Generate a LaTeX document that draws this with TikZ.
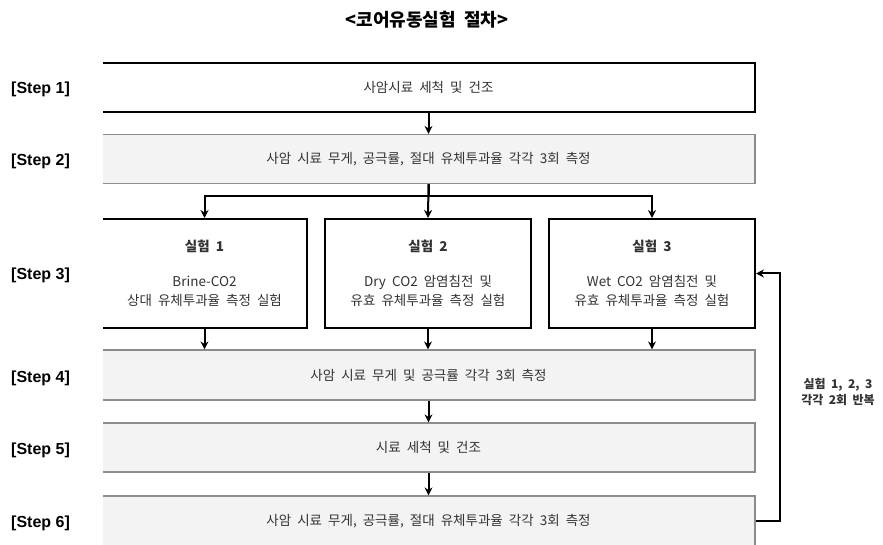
\documentclass[tikz,border=0pt]{standalone}
\usepackage{fontspec}
\setmainfont{Noto Sans CJK KR}[WordSpace=2]
\newfontfamily\stepfont{Liberation Sans}
\usetikzlibrary{arrows.meta}
\definecolor{boxgray}{HTML}{F3F3F3}
\definecolor{linegray}{HTML}{8C8C8C}
\definecolor{textgray}{HTML}{333333}

\begin{document}
\begin{tikzpicture}[x=1pt,y=1pt]
\tikzstyle{every node}+=[inner sep=0pt]
\tikzstyle{whitebox}=[draw=black, line width=1.5pt, fill=white, minimum width=653pt, minimum height=49pt, text=textgray, font=\fontsize{13.5}{16}\selectfont]
\tikzstyle{graybox}=[whitebox, draw=linegray, line width=1.2pt, fill=boxgray]
\tikzstyle{testbox}=[draw=black, line width=2pt, fill=white, minimum width=205pt, minimum height=109pt, align=center, text=textgray, font=\fontsize{13.5}{19}\selectfont]
\tikzstyle{steplabel}=[anchor=west, font=\stepfont\bfseries\fontsize{16}{19}\selectfont]
\tikzstyle{arr}=[-{Stealth[length=8pt,width=8pt]}, line width=2pt]
\useasboundingbox (0,0) rectangle (883,-545);
\node [font=\bfseries\fontsize{18}{21}\selectfont] (title) at (427,-20) {<코어유동실험 절차>};
\begin{scope}
\clip (103,-50) rectangle (883,-550);
\node [whitebox] (s1) at (428.5,-87.5) {사암시료 세척 및 건조};
\node [graybox] (s2) at (428.5,-159) {사암 시료 무게, 공극률, 절대 유체투과율 각각 3회 측정};
\node [testbox] (e1) at (204.5,-273.5) {\textbf{실험 1}\\[16pt]Brine-CO2\\상대 유체투과율 측정 실험};
\node [testbox, minimum width=206pt] (e2) at (428,-273.5) {\textbf{실험 2}\\[16pt]Dry CO2 암염침전 및\\유효 유체투과율 측정 실험};
\node [testbox, minimum width=206pt] (e3) at (652,-273.5) {\textbf{실험 3}\\[16pt]Wet CO2 암염침전 및\\유효 유체투과율 측정 실험};
\node [graybox, minimum height=50pt] (s4) at (428.5,-375) {사암 시료 무게 및 공극률 각각 3회 측정};
\node [graybox] (s5) at (428.5,-447.5) {시료 세척 및 건조};
\node [graybox, minimum height=50pt] (s6) at (428.5,-521) {사암 시료 무게, 공극률, 절대 유체투과율 각각 3회 측정};
\end{scope}
\node [steplabel] (l1) at (11,-89) {[Step 1]};
\node [steplabel] (l2) at (11,-161) {[Step 2]};
\node [steplabel] (l3) at (11,-275) {[Step 3]};
\node [steplabel] (l4) at (11,-378) {[Step 4]};
\node [steplabel] (l5) at (11,-450) {[Step 5]};
\node [steplabel] (l6) at (11,-523) {[Step 6]};
\draw [arr] (s1) -- (s2);
\draw [arr] (s2.south) -- ++(0,-12) -| (e1.north);
\draw [arr] (s2.south) -- ++(0,-12) -| (e3.north);
\draw [arr] (s2.south) -- (e2.north);
\draw [arr] (e1.south) -- (e1.south |- s4.north);
\draw [arr] (e2.south) -- (e2.south |- s4.north);
\draw [arr] (e3.south) -- (e3.south |- s4.north);
\draw [arr] (s4) -- (s5);
\draw [arr] (s5) -- (s6);
\draw [arr] (s6.east) -- ++(24,0) |- (e3.east);
\node [font=\bfseries\fontsize{12}{16}\selectfont, align=center, text=textgray] (rep) at (838,-392) {실험 1, 2, 3\\각각 2회 반복};
\end{tikzpicture}
\end{document}
